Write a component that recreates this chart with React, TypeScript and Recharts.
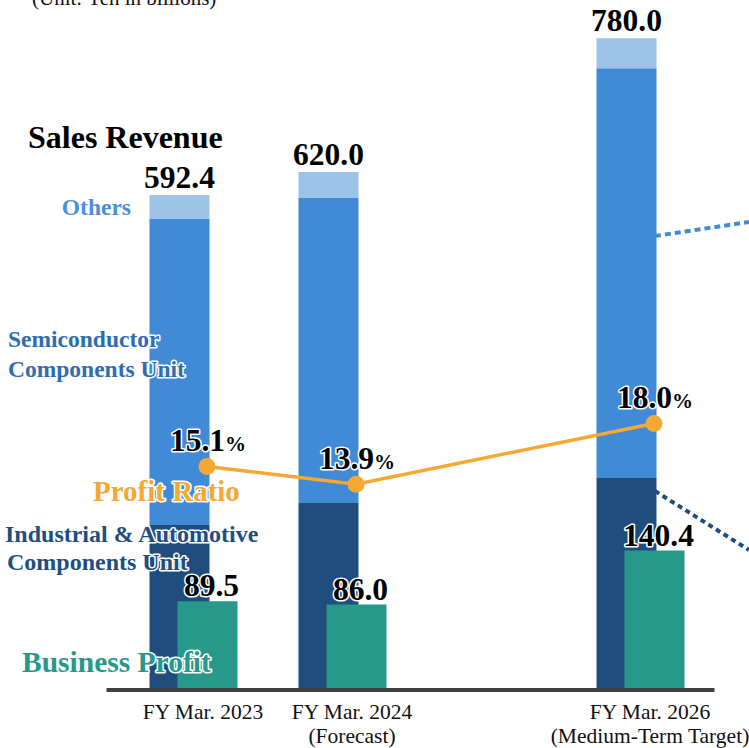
import React from "react";
import { ComposedChart, Bar, Line, XAxis, YAxis, LabelList } from "recharts";

// fiscal years (FY Mar. 2025 is an empty slot)
const categories = ["FY2023", "FY2024", "FY2025", "FY2026"];
const tickLabels = ["FY Mar. 2023", "FY Mar. 2024", "", "FY Mar. 2026"];
const tickNotes = ["", "(Forecast)", "", "(Medium-Term Target)"];

// sales revenue, yen in billions
const industrial = [197.5, 223.8, null, 253.7];
const semiconductor = [366.2, 365.1, null, 490.4];
const others = [28.7, 31.1, null, 35.9];
const salesTotal = [592.4, 620.0, null, 780.0];

// business profit and profit ratio
const businessProfit = [89.5, 86.0, null, 140.4];
const profitRatio = [15.1, 13.9, null, 18.0];

const chartData = categories.map((name, i) => ({
  name,
  industrial: industrial[i],
  semiconductor: semiconductor[i],
  others: others[i],
  total: salesTotal[i],
  profit: businessProfit[i],
  ratio: profitRatio[i],
}));

const W = 749;
const H = 748;
const MARGIN = { top: 0, right: 34.5, bottom: 0, left: 106.5 };
const FONT = "'Liberation Serif', 'Times New Roman', serif";

const C_OTHERS = "#9dc3e8";
const C_SEMI = "#418ad6";
const C_IND = "#1f4e7e";
const C_PROFIT = "#26998b";
const C_RATIO = "#f5a833";

const halo = { stroke: "#fff", strokeWidth: 3, paintOrder: "stroke" as const, strokeLinejoin: "round" as const };

function YearTick({ x, y, index }: any) {
  return (
    <g transform={`translate(${x + 10},${y})`} fontFamily={FONT} fontSize={21.5} fill="#111">
      <text textAnchor="middle" y={29}>{tickLabels[index]}</text>
      {tickNotes[index] && <text textAnchor="middle" y={53}>{tickNotes[index]}</text>}
    </g>
  );
}

function TotalLabel({ x, y, width, value }: any) {
  if (value == null) return null;
  return (
    <text x={x + width / 2} y={y - 7} textAnchor="middle" fontFamily={FONT} fontWeight="bold" fontSize={31.5} fill="#000">
      {Number(value).toFixed(1)}
    </text>
  );
}

function ProfitLabel({ x, y, width, value }: any) {
  if (value == null) return null;
  return (
    <text x={x + width / 2 + 4} y={y - 5} textAnchor="middle" fontFamily={FONT} fontWeight="bold" fontSize={31.5} fill="#000" {...halo}>
      {Number(value).toFixed(1)}
    </text>
  );
}

function RatioLabel({ x, y, value }: any) {
  if (value == null) return null;
  return (
    <text x={x + 1} y={y - 15} textAnchor="middle" fontFamily={FONT} fontWeight="bold" fill="#000" {...halo}>
      <tspan fontSize={31.5}>{Number(value).toFixed(1)}</tspan>
      <tspan fontSize={21}>%</tspan>
    </text>
  );
}

function Annotations() {
  const label = { fontFamily: FONT, fontWeight: "bold" as const, ...halo };
  return (
    <svg width={W} height={H} style={{ position: "absolute", left: 0, top: 0, pointerEvents: "none" }}>
      <text x={32} y={5} fontFamily={FONT} fontSize={21} fill="#111">(Unit: Yen in billions)</text>
      <text x={28} y={148} {...label} fontSize={32} fill="#000">Sales Revenue</text>
      <text x={131} y={215} textAnchor="end" {...label} fontSize={23.5} fill="#4a90d9">Others</text>
      <text x={8} y={347} {...label} fontSize={23.5} fill="#2e6db4">Semiconductor</text>
      <text x={8} y={377} {...label} fontSize={23.5} fill="#2e6db4">Components Unit</text>
      <text x={93} y={501} {...label} fontSize={29} fill={C_RATIO}>Profit Ratio</text>
      <text x={5} y={542} {...label} fontSize={24} fill={C_IND}>Industrial &amp; Automotive</text>
      <text x={7} y={570} {...label} fontSize={24} fill={C_IND}>Components Unit</text>
      <text x={22} y={672} {...label} fontSize={29.5} fill={C_PROFIT}>Business Profit</text>
      {/* connectors to the next panel */}
      <line x1={655} y1={236} x2={749} y2={222} stroke={C_SEMI} strokeWidth={4} strokeDasharray="6 4" />
      <line x1={655} y1={491} x2={749} y2={550} stroke={C_IND} strokeWidth={4} strokeDasharray="5 4" />
    </svg>
  );
}

export default function App() {
  return (
    <div style={{ position: "absolute", left: 0, top: 0, width: W, height: H, background: "#fff" }}>
      <div style={{ position: "absolute", left: 0, top: 0 }}>
        <ComposedChart width={W} height={H} data={chartData} margin={MARGIN} barSize={60} barGap={-32}>
          <XAxis
            dataKey="name"
            height={58}
            padding={{ left: 12, right: 0 }}
            axisLine={{ stroke: "#404040", strokeWidth: 4 }}
            tickLine={false}
            tickSize={0}
            tickMargin={0}
            interval={0}
            tick={<YearTick />}
          />
          <YAxis yAxisId="sales" domain={[0, 825.8]} hide allowDataOverflow />
          <YAxis yAxisId="profit" domain={[0, 695]} hide allowDataOverflow />
          <Bar yAxisId="sales" dataKey="industrial" stackId="sales" fill={C_IND} isAnimationActive={false} />
          <Bar yAxisId="sales" dataKey="semiconductor" stackId="sales" fill={C_SEMI} isAnimationActive={false} />
          <Bar yAxisId="sales" dataKey="others" stackId="sales" fill={C_OTHERS} isAnimationActive={false}>
            <LabelList dataKey="total" content={<TotalLabel />} />
          </Bar>
          <Bar yAxisId="profit" dataKey="profit" fill={C_PROFIT} isAnimationActive={false}>
            <LabelList dataKey="profit" content={<ProfitLabel />} />
          </Bar>
        </ComposedChart>
      </div>
      {/* profit ratio line sits near the right edge of the sales bars */}
      <div style={{ position: "absolute", left: 14, top: 0, pointerEvents: "none" }}>
        <ComposedChart width={W} height={H} data={chartData} margin={{ ...MARGIN, bottom: 58 }}>
          <XAxis dataKey="name" hide scale="band" padding={{ left: 12, right: 0 }} />
          <YAxis yAxisId="ratio" domain={[0, 46.6]} hide allowDataOverflow />
          <Line
            yAxisId="ratio"
            dataKey="ratio"
            stroke={C_RATIO}
            strokeWidth={3.5}
            connectNulls
            dot={{ r: 8.5, fill: C_RATIO, stroke: "none" }}
            activeDot={false}
            isAnimationActive={false}
          >
            <LabelList dataKey="ratio" content={<RatioLabel />} />
          </Line>
        </ComposedChart>
      </div>
      <Annotations />
    </div>
  );
}
